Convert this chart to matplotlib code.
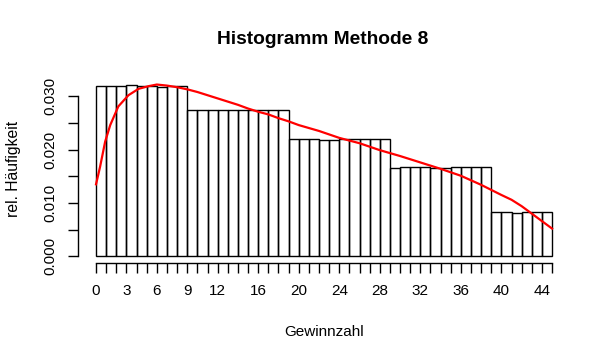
import matplotlib
matplotlib.use("Agg")
import matplotlib.pyplot as plt
import numpy as np

plt.rcParams['font.family'] = ['Liberation Sans', 'DejaVu Sans']

# relative frequencies, one bar per integer bin [k, k+1)
bin_left = np.arange(0, 45)
rel_freq = [0.0319, 0.0319, 0.0319, 0.0321, 0.0319, 0.0319, 0.0317, 0.0319, 0.0319,
            0.0275, 0.0275, 0.0275, 0.0275, 0.0274, 0.0275, 0.0275, 0.0275, 0.0275, 0.0275,
            0.0219, 0.0219, 0.0219, 0.0218, 0.0218, 0.0219, 0.0219, 0.0219, 0.0219, 0.0219,
            0.0165, 0.0167, 0.0167, 0.0167, 0.0165, 0.0165, 0.0167, 0.0167, 0.0167, 0.0167,
            0.0084, 0.0084, 0.0082, 0.0084, 0.0084, 0.0084]

# density curve
dens_x = [0, 0.4, 0.9, 1.4, 2.2, 3.2, 4.2, 5.2, 6, 7, 8, 9, 10, 11, 12, 13, 14, 15,
          16, 17, 18, 19, 20, 22, 24, 26, 28, 30, 32, 34, 36, 38, 40, 41, 42, 43, 44, 45]
dens_y = [0.0135, 0.0168, 0.0215, 0.0246, 0.0281, 0.0302, 0.0314, 0.0319, 0.0322,
          0.0320, 0.0317, 0.0313, 0.0308, 0.0302, 0.0296, 0.0290, 0.0284, 0.0277,
          0.0271, 0.0266, 0.0259, 0.0253, 0.0246, 0.0235, 0.0222, 0.0212, 0.0199,
          0.0188, 0.0176, 0.0164, 0.0151, 0.0134, 0.0115, 0.0106, 0.0094, 0.0080,
          0.0066, 0.0052]

x_labels = [0, 3, 6, 9, 12, 16, 20, 24, 28, 32, 36, 40, 44]
y_ticks = [0.000, 0.005, 0.010, 0.015, 0.020, 0.025, 0.030]
y_labels = ["0.000", "", "0.010", "", "0.020", "", "0.030"]

W, H = 611, 361
fig = plt.figure(figsize=(W / 100, H / 100), dpi=100)
ax = fig.add_axes([77.8 / W, 1 - 263.2 / H, (570.3 - 77.8) / W, (263.2 - 77.6) / H])

ax.bar(bin_left, rel_freq, width=1, align='edge', fill=False,
       edgecolor='black', linewidth=1.0)
ax.plot(dens_x, dens_y, color='red', linewidth=1.6)

ax.set_xlim(-1.8, 46.8)
ax.set_ylim(-0.00129, 0.0335)

for s in ['top', 'right']:
    ax.spines[s].set_visible(False)
ax.spines['left'].set_bounds(0, 0.030)
ax.spines['bottom'].set_bounds(0, 45)
ax.spines['left'].set_linewidth(1.0)
ax.spines['bottom'].set_linewidth(1.0)

fs = 11
ax.set_xticks(np.arange(0, 46))
ax.set_xticklabels([str(k) if k in x_labels else "" for k in range(46)], fontsize=fs)
ax.set_yticks(y_ticks)
ax.set_yticklabels(y_labels, fontsize=fs, rotation=90, va='center')
ax.tick_params(axis='both', length=7, width=1.0, direction='out')
ax.tick_params(axis='x', pad=8)
ax.tick_params(axis='y', pad=8)

fig.text(323 / W, 1 - 39 / H, "Histogramm Methode 8", ha='center', va='center',
         fontsize=13.8, fontweight='bold')
fig.text(324 / W, 1 - 332 / H, "Gewinnzahl", ha='center', va='center', fontsize=fs)
fig.text(14 / W, 1 - 169 / H, "rel. Häufigkeit", ha='center', va='center',
         fontsize=11.3, rotation=90)

fig.savefig("out.png", dpi=100)
